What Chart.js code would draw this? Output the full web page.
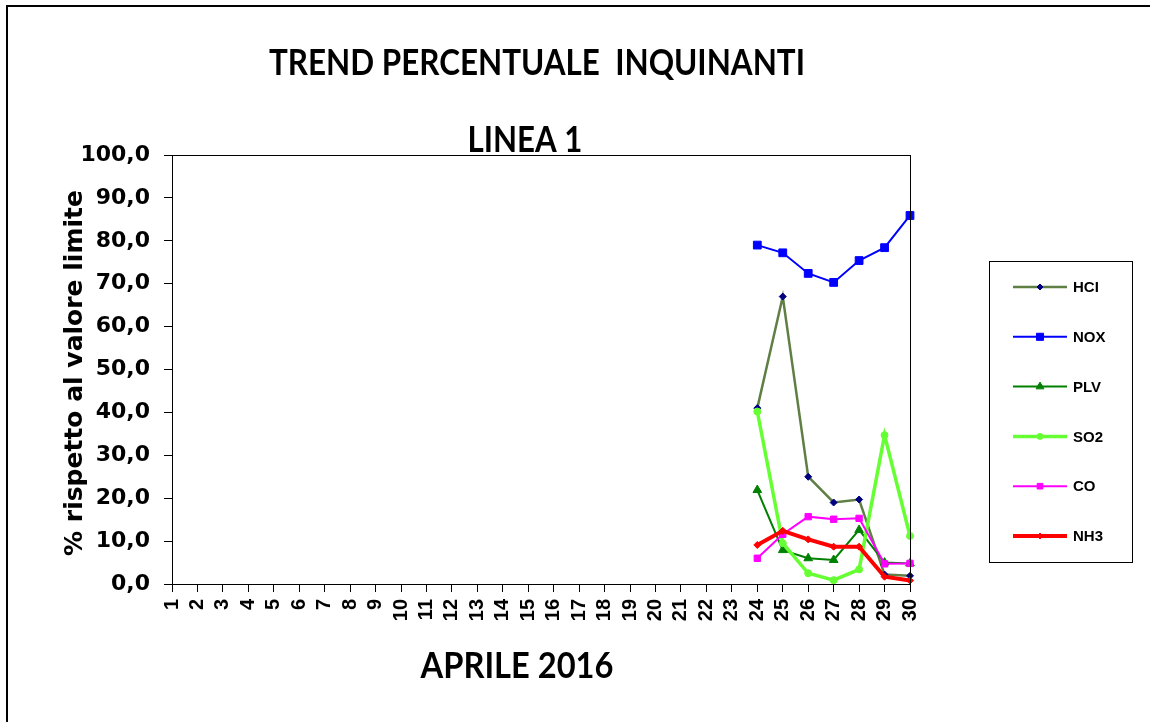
<!DOCTYPE html>
<html>
<head>
<meta charset="utf-8">
<script src="https://cdn.jsdelivr.net/npm/chart.js@4.4.1/dist/chart.umd.min.js"></script>
<style>
  html, body { margin: 0; padding: 0; background: #fff; }
  #wrap { width: 1150px; height: 722px; }
</style>
</head>
<body>
<div id="wrap"><canvas id="chart" width="1150" height="722"></canvas></div>
<script>
// giorni di aprile 2016
const days = ['1','2','3','4','5','6','7','8','9','10','11','12','13','14','15',
              '16','17','18','19','20','21','22','23','24','25','26','27','28','29','30'];
const empty = new Array(23).fill(null);

// valori dal 24 al 30
const hcl = empty.concat([41.0, 67.0, 25.0, 19.0, 19.7, 2.2, 1.9]);
const nox = empty.concat([79.0, 77.2, 72.4, 70.3, 75.4, 78.4, 85.9]);
const plv = empty.concat([21.9, 7.9, 6.0, 5.6, 12.6, 5.0, 4.8]);
const so2 = empty.concat([40.2, 9.5, 2.5, 0.9, 3.4, 34.7, 11.2]);
const co  = empty.concat([6.0, 11.6, 15.7, 15.1, 15.3, 4.7, 4.8]);
const nh3 = empty.concat([9.1, 12.4, 10.4, 8.7, 8.7, 1.7, 0.8]);

const yTicks = [0, 10, 20, 30, 40, 50, 60, 70, 80, 90, 100];

const series = [
    { label: 'HCl', data: hcl, color: '#5f7f45', marker: '#000080', style: 'rectRot', r: 3.5, width: 2.5 },
    { label: 'NOX', data: nox, color: '#0000ff', marker: '#0000ff', style: 'rect', r: 5.5, width: 2 },
    { label: 'PLV', data: plv, color: '#008000', marker: '#008000', style: 'triangle', r: 5, width: 2 },
    { label: 'SO2', data: so2, color: '#66ff33', marker: '#66ff33', style: 'circle', r: 3.5, width: 3.5 },
    { label: 'CO',  data: co,  color: '#ff00ff', marker: '#ff00ff', style: 'rect', r: 4.5, width: 2 },
    { label: 'NH3', data: nh3, color: '#ff0000', marker: '#ff0000', style: 'rectRot', r: 3.5, width: 4 },
];

// cornice, titoli e legenda disegnati a mano come nel grafico Excel
const decorations = {
    id: 'decorations',
    beforeDraw(chart) {
        const ctx = chart.ctx;
        ctx.save();
        ctx.fillStyle = '#fff';
        ctx.fillRect(0, 0, chart.width, chart.height);
        ctx.strokeStyle = '#000';
        ctx.lineWidth = 2;
        ctx.strokeRect(7, 6, 1300, 900);
        ctx.restore();
    },
    afterDraw(chart) {
        const ctx = chart.ctx;
        const a = chart.chartArea;
        ctx.save();

        // bordo area del grafico
        ctx.strokeStyle = '#000';
        ctx.lineWidth = 1;
        ctx.strokeRect(Math.round(a.left) + 0.5, Math.round(a.top) + 0.5,
                       Math.round(a.right - a.left), Math.round(a.bottom - a.top));

        // titoli
        const texts = [
            { t: 'TREND PERCENTUALE  INQUINANTI', cx: 537, y: 75, w: 536 },
            { t: 'LINEA 1', cx: 525, y: 152, w: 115 },
            { t: 'APRILE 2016', cx: 517, y: 678, w: 193 },
        ];
        ctx.fillStyle = '#000';
        ctx.textBaseline = 'alphabetic';
        ctx.textAlign = 'center';
        ctx.font = 'bold 37px Lato';
        texts.forEach(o => {
            const m = ctx.measureText(o.t).width;
            ctx.save();
            ctx.translate(o.cx, o.y);
            ctx.scale(o.w / m, 1);
            ctx.fillText(o.t, 0, 0);
            ctx.restore();
        });

        // titolo asse y
        ctx.save();
        ctx.translate(82, 373);
        ctx.rotate(-Math.PI / 2);
        ctx.font = 'bold 25px "DejaVu Sans"';
        ctx.textAlign = 'center';
        ctx.fillText('% rispetto al valore limite', 0, 0);
        ctx.restore();

        // legenda
        const box = { x: 989.5, y: 261.5, w: 143, h: 301 };
        ctx.lineWidth = 1;
        ctx.strokeStyle = '#000';
        ctx.strokeRect(box.x, box.y, box.w, box.h);
        ctx.font = 'bold 15px "Liberation Sans"';
        ctx.textAlign = 'left';
        ctx.textBaseline = 'middle';
        series.forEach((s, i) => {
            const y = 287 + i * 49.8;
            ctx.strokeStyle = s.color;
            ctx.lineWidth = s.width;
            ctx.beginPath();
            ctx.moveTo(1013, y);
            ctx.lineTo(1067, y);
            ctx.stroke();
            ctx.fillStyle = s.marker;
            ctx.strokeStyle = s.marker;
            ctx.lineWidth = 1;
            Chart.helpers.drawPoint(ctx, { pointStyle: s.style, radius: s.r - 0.5, borderWidth: 1, rotation: 0 }, 1040, y);
            ctx.fillStyle = '#000';
            ctx.fillText(s.label === 'HCl' ? 'HCI' : s.label, 1073, y + 1);
        });
        ctx.restore();
    }
};

const ctx = document.getElementById('chart').getContext('2d');
new Chart(ctx, {
    type: 'line',
    data: {
        labels: days,
        datasets: series.map((s, i) => ({
            label: s.label,
            data: s.data,
            borderColor: s.color,
            backgroundColor: s.marker,
            borderWidth: s.width,
            pointStyle: s.style,
            pointRadius: s.r,
            pointBackgroundColor: s.marker,
            pointBorderColor: s.marker,
            pointBorderWidth: 1,
            tension: 0,
            fill: false,
            spanGaps: false,
            order: series.length - i,
        })),
    },
    options: {
        responsive: false,
        animation: false,
        layout: { padding: { top: 155, right: 240, bottom: 0, left: 0 } },
        plugins: {
            legend: { display: false },
            title: { display: false },
            tooltip: { enabled: false },
        },
        scales: {
            x: {
                offset: false,
                grid: { drawOnChartArea: false, drawTicks: true, tickLength: 8, color: '#000' },
                border: { color: '#000', width: 1 },
                ticks: {
                    autoSkip: false,
                    minRotation: 90,
                    maxRotation: 90,
                    padding: 7,
                    color: '#000',
                    font: { family: 'Liberation Sans', weight: 'bold', size: 20 },
                },
                afterFit(scale) { scale.height = 138; },
            },
            y: {
                min: 0,
                max: 100,
                afterBuildTicks(scale) { scale.ticks = yTicks.map(v => ({ value: v })); },
                grid: { drawOnChartArea: false, drawTicks: true, tickLength: 8, color: '#000' },
                border: { color: '#000', width: 1 },
                ticks: {
                    padding: 14,
                    color: '#000',
                    font: { family: 'DejaVu Sans', weight: 'bold', size: 22 },
                    callback: v => v.toFixed(1).replace('.', ','),
                },
                afterFit(scale) { scale.width = 172; },
            },
        },
    },
    plugins: [decorations],
});
</script>
</body>
</html>
